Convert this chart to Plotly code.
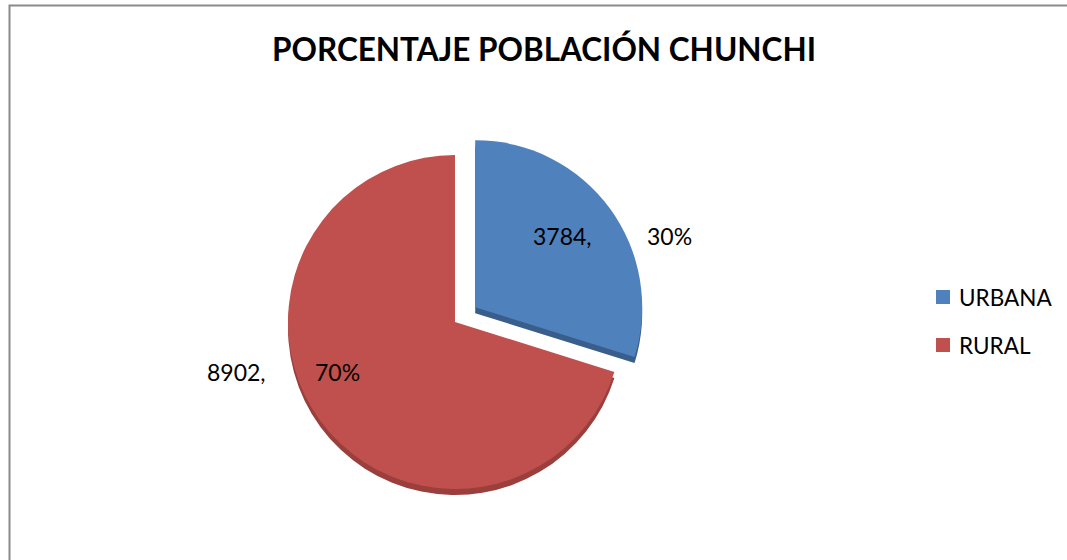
import plotly.graph_objects as go

labels = ["URBANA", "RURAL"]
values = [3784, 8902]
colors = ["#4F81BD", "#C0504D"]
side_colors = ["#3A5E8C", "#9A3F3C"]
pulls = [0.15, 0.0]
title_text = "PORCENTAJE POBLACIÓN CHUNCHI"

total = sum(values)
pcts = [round(v / total * 100) for v in values]

FONT = "Lato"
W, H = 1067, 560

# pie geometry (pixels)
R = 167
CX, CY = 455, 322
DEPTH = 6
half = R * (1 + max(pulls))


def dom(cx, cy):
    return dict(x=[(cx - half) / W, (cx + half) / W], y=[1 - (cy + half) / H, 1 - (cy - half) / H])


common = dict(labels=labels, values=values, pull=pulls, sort=False, direction="clockwise",
              rotation=0, textinfo="none", showlegend=False)

fig = go.Figure()
# darker copy below for the 3D edge
fig.add_trace(go.Pie(marker=dict(colors=side_colors, line=dict(width=0)), domain=dom(CX, CY + DEPTH),
                     hoverinfo="skip", **common))
fig.add_trace(go.Pie(marker=dict(colors=colors, line=dict(width=0)), domain=dom(CX, CY),
                     hoverinfo="label+value+percent", **common))

# data labels ("value,     pct%") placed like the original
label_pos = [((531, 236), (645, 236)), ((205, 372), (313, 372))]
annotations = []
for (vpos, ppos), v, p in zip(label_pos, values, pcts):
    for txt, pos in ((f"{v},", vpos), (f"{p}%", ppos)):
        annotations.append(dict(text=txt, x=pos[0] / W, y=1 - pos[1] / H, xref="paper", yref="paper",
                                xanchor="left", yanchor="middle", showarrow=False,
                                font=dict(family=FONT, size=23, color="#000")))

shapes = [dict(type="rect", xref="paper", yref="paper", x0=9.5 / W, x1=1.02, y0=-0.05, y1=1 - 5.5 / H,
               line=dict(color="#8a8a8a", width=2), fillcolor="rgba(0,0,0,0)", layer="below")]

# legend (square marker + label)
leg_x, leg_y0, leg_dy, sq = 936, 297, 48, 14
for i, (lab, col) in enumerate(zip(labels, colors)):
    yc = leg_y0 + i * leg_dy
    shapes.append(dict(type="rect", xref="paper", yref="paper",
                       x0=leg_x / W, x1=(leg_x + sq) / W, y0=1 - (yc + sq / 2) / H, y1=1 - (yc - sq / 2) / H,
                       line=dict(width=0), fillcolor=col))
    annotations.append(dict(text=lab, x=(leg_x + sq + 7) / W, y=1 - yc / H, xref="paper", yref="paper",
                            xanchor="left", yanchor="middle", showarrow=False,
                            font=dict(family=FONT, size=22.5, color="#000")))

fig.update_layout(
    width=W, height=H,
    margin=dict(l=0, r=0, t=0, b=0),
    paper_bgcolor="white",
    plot_bgcolor="white",
    title=dict(text=f"<b>{title_text}</b>", x=544 / W, xanchor="center", y=1 - 50 / H, yanchor="middle",
               font=dict(family=FONT, size=31.5, color="#000")),
    showlegend=False,
    annotations=annotations,
    shapes=shapes,
)

fig.write_html("out.html", config={"displayModeBar": False},
               post_script="document.body.style.margin='0';")
